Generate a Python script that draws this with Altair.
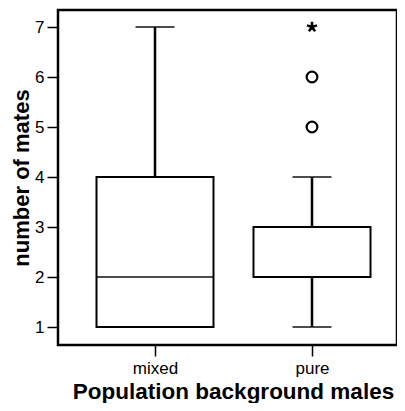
import altair as alt
import pandas as pd

categories = ["mixed", "pure"]
mins = [1, 1]
q1s = [1, 2]
medians = [2, 2]
q3s = [4, 3]
maxs = [7, 4]

outlier_cat = ["pure", "pure"]
outlier_val = [5, 6]
extreme_cat = ["pure"]
extreme_val = [7]

y_ticks = [1, 2, 3, 4, 5, 6, 7]

box = pd.DataFrame({"group": categories, "lo": mins, "q1": q1s, "med": medians,
                    "q3": q3s, "hi": maxs})
outl = pd.DataFrame({"group": outlier_cat, "v": outlier_val})
extr = pd.DataFrame({"group": extreme_cat, "v": extreme_val})

FONT = "Liberation Sans"
W, H = 339, 335

x = alt.X("group:N", sort=categories,
          scale=alt.Scale(type="point", range=[97, 254], padding=0),
          axis=alt.Axis(title="Population background males", labelAngle=0,
                        labelFont=FONT, labelFontSize=17, labelColor="black",
                        labelPadding=4, tickSize=11, tickWidth=1.5, tickColor="black",
                        domain=False, grid=False,
                        titleFont=FONT, titleFontSize=22.5, titleFontWeight="bold",
                        titleColor="black", titleX=175, titleY=53,
                        titleAlign="center", titleBaseline="alphabetic"))
yscale = alt.Scale(domain=[0.64, 7.34], nice=False, zero=False)
yaxis = alt.Axis(title="number of mates", values=y_ticks, format="d",
                 labelFont=FONT, labelFontSize=17, labelColor="black",
                 labelPadding=3, tickSize=11, tickWidth=1.5, tickColor="black",
                 domain=False, grid=False,
                 titleFont=FONT, titleFontSize=22, titleFontWeight="bold",
                 titleColor="black", titleX=-30, titleY=H / 2, titleAngle=-90,
                 titleAlign="center", titleBaseline="alphabetic")

base = alt.Chart(box)

whisk = base.mark_rule(color="black", strokeWidth=2.5).encode(
    x=x, y=alt.Y("lo:Q", scale=yscale, axis=yaxis), y2="hi:Q")
caps_lo = base.mark_tick(color="black", size=39, thickness=2.2).encode(
    x=x, y=alt.Y("lo:Q", scale=yscale))
caps_hi = base.mark_tick(color="black", size=39, thickness=2.2).encode(
    x=x, y=alt.Y("hi:Q", scale=yscale))
rect = base.mark_bar(fill="white", stroke="black", strokeWidth=2, size=117).encode(
    x=x, y=alt.Y("q1:Q", scale=yscale), y2="q3:Q")
med = base.mark_tick(color="black", size=117, thickness=2).encode(
    x=x, y=alt.Y("med:Q", scale=yscale))
pts = alt.Chart(outl).mark_point(shape="circle", filled=False, color="black",
                                 strokeWidth=2.2, size=115, opacity=1).encode(
    x=x, y=alt.Y("v:Q", scale=yscale))
star_path = ("M0,0L0,-1M0,0L0.951,-0.309M0,0L0.588,0.809"
             "M0,0L-0.588,0.809M0,0L-0.951,-0.309")
star = alt.Chart(extr).mark_point(shape=star_path, filled=False, color="black",
                                  strokeWidth=2.5, size=110, opacity=1).encode(
    x=x, y=alt.Y("v:Q", scale=yscale))

chart = alt.layer(whisk, caps_lo, caps_hi, rect, med, pts, star).properties(
    width=W, height=H,
    autosize=alt.AutoSizeParams(type="none"),
    padding={"left": 50, "top": 2, "right": 0, "bottom": 58},
    background="white",
).configure_view(stroke="black", strokeWidth=2.5)

chart.save("out.html", embed_options={"renderer": "svg", "actions": False})
